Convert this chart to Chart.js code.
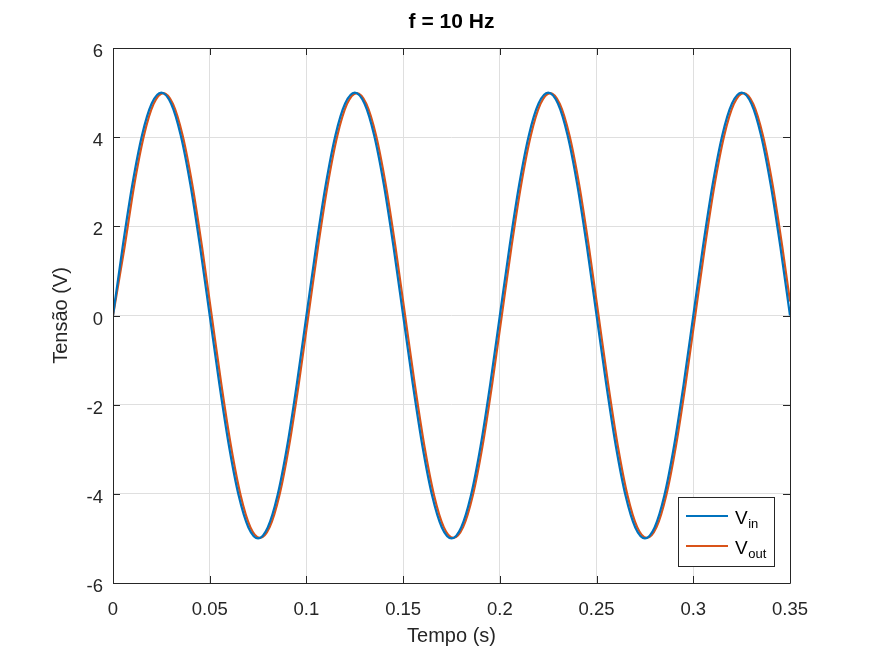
<!DOCTYPE html>
<html>
<head>
<meta charset="utf-8">
<script src="https://cdn.jsdelivr.net/npm/chart.js@4.4.1/dist/chart.umd.min.js"></script>
<style>
	html, body { margin: 0; padding: 0; background: #fff; }
	#wrap { width: 873px; height: 655px; }
</style>
</head>
<body>
<div id="wrap"><canvas id="myChart" width="873" height="655"></canvas></div>
<script>
/* f = 10 Hz : Vin / Vout */
var tempoIn = [0, 0.005, 0.01, 0.015, 0.02, 0.025, 0.03, 0.035, 0.04, 0.045,
	0.05, 0.055, 0.06, 0.065, 0.07, 0.075, 0.08, 0.085, 0.09, 0.095,
	0.1, 0.105, 0.11, 0.115, 0.12, 0.125, 0.13, 0.135, 0.14, 0.145,
	0.15, 0.155, 0.16, 0.165, 0.17, 0.175, 0.18, 0.185, 0.19, 0.195,
	0.2, 0.205, 0.21, 0.215, 0.22, 0.225, 0.23, 0.235, 0.24, 0.245,
	0.25, 0.255, 0.26, 0.265, 0.27, 0.275, 0.28, 0.285, 0.29, 0.295,
	0.3, 0.305, 0.31, 0.315, 0.32, 0.325, 0.33, 0.335, 0.34, 0.345, 0.35];
var vIn = [0, 1.545, 2.939, 4.045, 4.755, 5, 4.755, 4.045, 2.939, 1.545,
	0, -1.545, -2.939, -4.045, -4.755, -5, -4.755, -4.045, -2.939, -1.545,
	0, 1.545, 2.939, 4.045, 4.755, 5, 4.755, 4.045, 2.939, 1.545,
	0, -1.545, -2.939, -4.045, -4.755, -5, -4.755, -4.045, -2.939, -1.545,
	0, 1.545, 2.939, 4.045, 4.755, 5, 4.755, 4.045, 2.939, 1.545,
	0, -1.545, -2.939, -4.045, -4.755, -5, -4.755, -4.045, -2.939, -1.545,
	0, 1.545, 2.939, 4.045, 4.755, 5, 4.755, 4.045, 2.939, 1.545, 0];

var tempoOut = [0, 0.006, 0.011, 0.016, 0.021, 0.026, 0.031, 0.036, 0.041, 0.046,
	0.051, 0.056, 0.061, 0.066, 0.071, 0.076, 0.081, 0.086, 0.091, 0.096,
	0.101, 0.106, 0.111, 0.116, 0.121, 0.126, 0.131, 0.136, 0.141, 0.146,
	0.151, 0.156, 0.161, 0.166, 0.171, 0.176, 0.181, 0.186, 0.191, 0.196,
	0.201, 0.206, 0.211, 0.216, 0.221, 0.226, 0.231, 0.236, 0.241, 0.246,
	0.251, 0.256, 0.261, 0.266, 0.271, 0.276, 0.281, 0.286, 0.291, 0.296,
	0.301, 0.306, 0.311, 0.316, 0.321, 0.326, 0.331, 0.336, 0.341, 0.346, 0.35];
var vOut = [0, 1.542, 2.933, 4.037, 4.746, 4.99, 4.746, 4.037, 2.933, 1.542,
	0, -1.542, -2.933, -4.037, -4.746, -4.99, -4.746, -4.037, -2.933, -1.542,
	0, 1.542, 2.933, 4.037, 4.746, 4.99, 4.746, 4.037, 2.933, 1.542,
	0, -1.542, -2.933, -4.037, -4.746, -4.99, -4.746, -4.037, -2.933, -1.542,
	0, 1.542, 2.933, 4.037, 4.746, 4.99, 4.746, 4.037, 2.933, 1.542,
	0, -1.542, -2.933, -4.037, -4.746, -4.99, -4.746, -4.037, -2.933, -1.542,
	0, 1.542, 2.933, 4.037, 4.746, 4.99, 4.746, 4.037, 2.933, 1.542, 0.313];

var xTicks = [0, 0.05, 0.1, 0.15, 0.2, 0.25, 0.3, 0.35];
var yTicks = [-6, -4, -2, 0, 2, 4, 6];
var seriesNames = [['V', 'in'], ['V', 'out']];
var seriesColors = ['#0072BD', '#D95319'];
var titleText = 'f = 10 Hz';

var fontFam = "'Liberation Sans', Arial, Helvetica, sans-serif";
var axisColor = '#262626';

function toPoints(xs, ys) {
	return xs.map(function (x, i) { return { x: x, y: ys[i] }; });
}

// title centred over the plot area, not the canvas
const titlePlugin = {
	id: 'titlePlugin',
	afterDraw(chart) {
		const { ctx, chartArea: { left, right } } = chart;
		ctx.save();
		ctx.fillStyle = '#000';
		ctx.font = 'bold 21px ' + fontFam;
		ctx.textAlign = 'center';
		ctx.textBaseline = 'middle';
		ctx.fillText(titleText, (left + right) / 2, 22);
		ctx.restore();
	}
};

// box + ticks pointing inward (matlab style)
const boxPlugin = {
	id: 'boxPlugin',
	afterDatasetsDraw(chart) {
		const { ctx, chartArea: { left, right, top, bottom } } = chart;
		const xs = chart.scales.x, ys = chart.scales.y;
		const tl = 7;
		ctx.save();
		ctx.strokeStyle = axisColor;
		ctx.lineWidth = 1;
		ctx.beginPath();
		ctx.rect(Math.round(left) + 0.5, Math.round(top) + 0.5, Math.round(right - left), Math.round(bottom - top));
		xTicks.forEach(function (v) {
			var px = Math.round(xs.getPixelForValue(v)) + 0.5;
			ctx.moveTo(px, bottom);
			ctx.lineTo(px, bottom - tl);
			ctx.moveTo(px, top);
			ctx.lineTo(px, top + tl);
		});
		yTicks.forEach(function (v) {
			var py = Math.round(ys.getPixelForValue(v)) + 0.5;
			ctx.moveTo(left, py);
			ctx.lineTo(left + tl, py);
			ctx.moveTo(right, py);
			ctx.lineTo(right - tl, py);
		});
		ctx.stroke();
		ctx.restore();
	}
};

// legend with subscripts
const legendPlugin = {
	id: 'legendPlugin',
	afterDraw(chart) {
		const { ctx, chartArea: { right, bottom } } = chart;
		const w = 96, h = 69;
		const L = Math.round(right - 16 - w), T = Math.round(bottom - 17 - h);
		ctx.save();
		ctx.fillStyle = '#fff';
		ctx.fillRect(L, T, w, h);
		ctx.strokeStyle = axisColor;
		ctx.lineWidth = 1;
		ctx.strokeRect(L + 0.5, T + 0.5, w, h);
		seriesNames.forEach(function (nm, i) {
			var ly = T + 19 + i * 30;
			ctx.strokeStyle = seriesColors[i];
			ctx.lineWidth = 2;
			ctx.beginPath();
			ctx.moveTo(L + 8, ly);
			ctx.lineTo(L + 50, ly);
			ctx.stroke();
			ctx.fillStyle = '#000';
			ctx.textBaseline = 'alphabetic';
			ctx.textAlign = 'left';
			ctx.font = '19px ' + fontFam;
			ctx.fillText(nm[0], L + 57, ly + 7.5);
			var vw = ctx.measureText(nm[0]).width;
			ctx.font = '13px ' + fontFam;
			ctx.fillText(nm[1], L + 57 + vw + 0.5, ly + 11.5);
		});
		ctx.restore();
	}
};

var chartSet = {
	type: 'line',
	data: {
		datasets: [{
			label: 'Vin',
			data: toPoints(tempoIn, vIn),
			borderColor: seriesColors[0],
			borderWidth: 2.2,
			pointRadius: 0,
			cubicInterpolationMode: 'monotone',
			fill: false
		}, {
			label: 'Vout',
			data: toPoints(tempoOut, vOut),
			borderColor: seriesColors[1],
			borderWidth: 2.2,
			pointRadius: 0,
			cubicInterpolationMode: 'monotone',
			fill: false
		}]
	},
	options: {
		responsive: false,
		animation: false,
		layout: {
			padding: { left: 0, right: 83, top: 48, bottom: 0 }
		},
		plugins: {
			legend: { display: false },
			tooltip: { enabled: false },
			title: { display: false }
		},
		scales: {
			x: {
				type: 'linear',
				min: 0,
				max: 0.35,
				afterBuildTicks: function (scale) {
					scale.ticks = xTicks.map(function (v) { return { value: v }; });
				},
				afterFit: function (scale) { scale.height = 72; },
				ticks: {
					color: axisColor,
					font: { family: fontFam, size: 18.5 },
					padding: 16,
					maxRotation: 0,
					autoSkip: false,
					callback: function (v) { return String(Math.round(v * 100) / 100); }
				},
				grid: { color: '#dfdfdf', drawTicks: false },
				border: { display: false },
				title: {
					display: true,
					text: 'Tempo (s)',
					color: axisColor,
					font: { family: fontFam, size: 20 },
					padding: { top: 0, bottom: 7 }
				}
			},
			y: {
				min: -6,
				max: 6,
				afterBuildTicks: function (scale) {
					scale.ticks = yTicks.map(function (v) { return { value: v }; });
				},
				afterFit: function (scale) { scale.width = 113; },
				ticks: {
					color: axisColor,
					font: { family: fontFam, size: 18.5 },
					padding: 10,
					labelOffset: 4,
					callback: function (v) { return String(v); }
				},
				grid: { color: '#dfdfdf', drawTicks: false },
				border: { display: false },
				title: {
					display: true,
					text: 'Tensão (V)',
					color: axisColor,
					font: { family: fontFam, size: 20 },
					padding: { top: 49, bottom: 0 }
				}
			}
		}
	},
	plugins: [boxPlugin, legendPlugin, titlePlugin]
};

var myChart = new Chart(document.getElementById('myChart'), chartSet);
</script>
</body>
</html>
